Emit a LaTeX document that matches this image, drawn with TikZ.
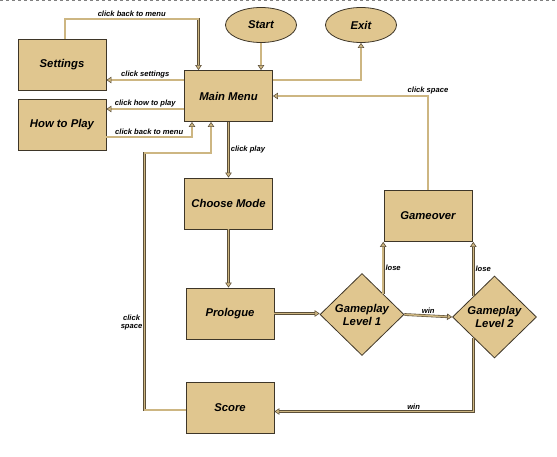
\documentclass[tikz,border=0pt]{standalone}
\usepackage{fontspec}
\setmainfont{Liberation Sans}
\usepackage{xcolor}
\usepackage{tikz}
\usetikzlibrary{shapes.geometric,arrows.meta}
\definecolor{boxfill}{HTML}{E0C68F}
\definecolor{boxline}{HTML}{3E3628}
\definecolor{linkdark}{HTML}{5C4F38}
\definecolor{linktan}{HTML}{CDB682}

\begin{document}
\begin{tikzpicture}[x = 1pt, y = -1pt,
    box/.style = {draw = boxline, fill = boxfill, line width = 0.8pt, minimum width = 88pt, minimum height = 51pt,
      font = \fontsize{11.3}{13}\selectfont\bfseries\itshape},
    oval/.style = {box, ellipse, minimum width = 71pt, minimum height = 35pt},
    decision/.style = {box, diamond, aspect = 1, inner sep = 0pt, minimum width = 84pt, minimum height = 82pt, align = center},
    link/.style = {draw = linkdark, line width = 0.6pt, double = linktan, double distance = 1.5pt,
      -{Triangle[length = 5pt, width = 6.5pt, fill = linktan]}},
    lbl/.style = {font = \fontsize{7.6}{8.6}\selectfont\bfseries\itshape, inner sep = 2pt}]
    \useasboundingbox (0, 0) rectangle (557, 457);
    \draw[gray, dashed, line width = 0.4pt] (0, 0.5) -- (557, 0.5);
    {
      \node[oval] (start) at (261, 25) {Start};
      \node[oval] (exit) at (361, 25) {Exit};
      \node[box] (menu) at (228.5, 96) {Main Menu};
      \node[box] (settings) at (62, 65) {Settings};
      \node[box] (howto) at (62, 124.5) {How to Play};
    }
    {
      \node[box] (mode) at (228.5, 203.5) {Choose Mode};
      \node[box] (prologue) at (230, 313.5) {Prologue};
      \node[decision] (level1) at (362, 314.5) {Gameplay\\Level 1};
      \node[decision] (level2) at (494.5, 317) {Gameplay\\Level 2};
      \node[box] (gameover) at (428, 216) {Gameover};
      \node[box] (score) at (230, 407.5) {Score};
    }
    \draw[link] (start.south) -- (start.south |- menu.north);
    \draw[link] ([yshift = 16]menu.east) -| (exit.south);
    \draw[link] (gameover.north) |- node[lbl, pos = 0.5, above] {click space} (menu.east);
    \draw[link] ([xshift = 3]settings.north) -- ++(0, -20) -| node[lbl, pos = 0.25, above] {click back to menu} ([xshift = -30]menu.north);
    \draw[link] ([yshift = 16]menu.west) -- node[lbl, above] {click settings} ([yshift = 16]menu.west -| settings.east);
    \draw[link] ([yshift = -13]menu.west) -- node[lbl, above] {click how to play} ([yshift = -13]menu.west -| howto.east);
    \draw[link] ([yshift = -12.5]howto.east) -| node[lbl, pos = 0.25, above] {click back to menu} ([xshift = -36.5]menu.south);
    \draw[link] (menu.south) -- node[lbl, right] {click play} (menu.south |- mode.north);
    \draw[link] (mode.south) -- (mode.south |- prologue.north);
    \draw[link] (prologue.east) -- (prologue.east -| level1.west);
    \draw[link] (level1.north east) -- node[lbl, right] {lose} (level1.north east |- gameover.south);
    \draw[link] (level1.east) -- node[lbl, above] {win} (level2.west);
    \draw[link] (level2.north west) -- node[lbl, right] {lose} (level2.north west |- gameover.south);
    \draw[link] (level2.south west) |- node[lbl, pos = 0.65, above] {win} ([yshift = -4]score.east);
    \draw[link] ([yshift = -2.5]score.west) -- ++(-41, 0) -- node[lbl, pos = 0.34, left, align = center] {click\\space} ++(0, -257) -| ([xshift = -17.5]menu.south);
  \end{tikzpicture}
\end{document}
